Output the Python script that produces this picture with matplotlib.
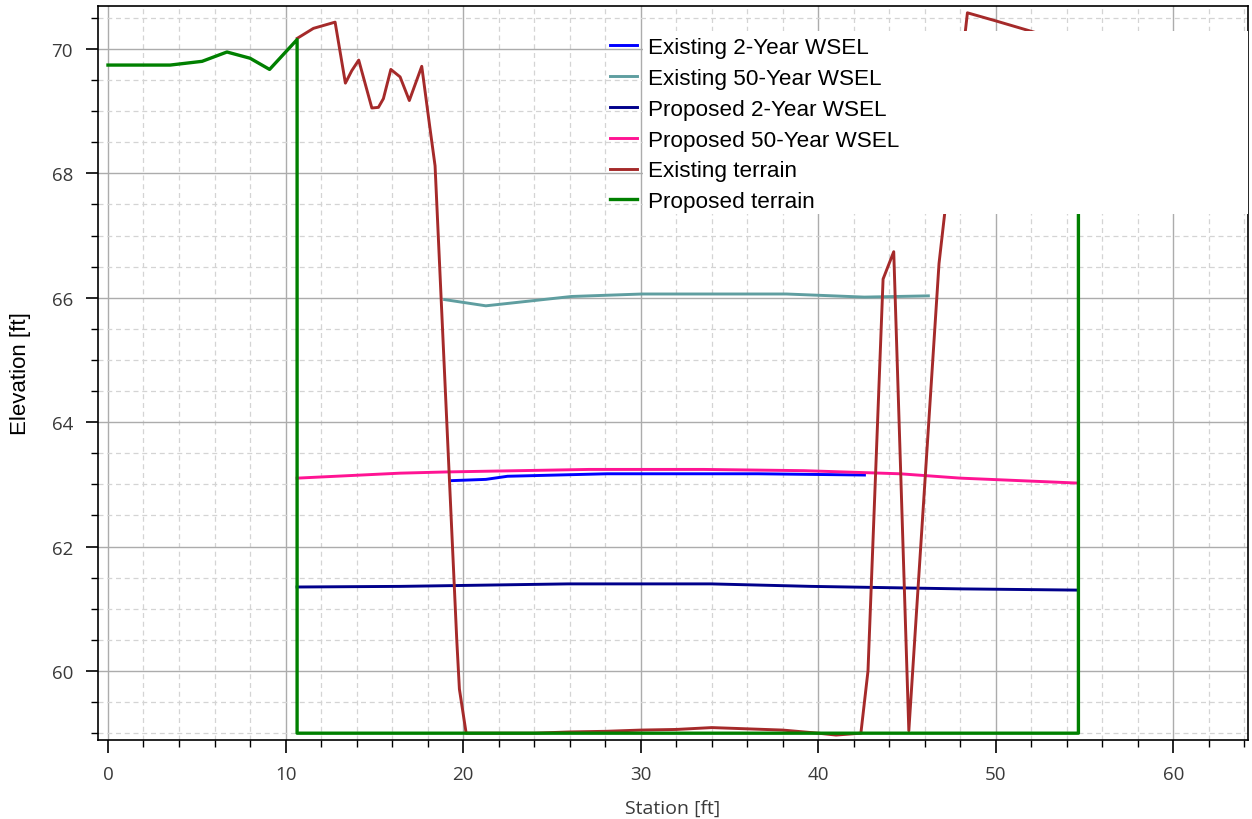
import matplotlib
matplotlib.use("Agg")
import matplotlib.pyplot as plt
from matplotlib.patches import Rectangle
from matplotlib.ticker import MultipleLocator

plt.rcParams["font.family"] = ["Open Sans", "DejaVu Sans"]

# proposed terrain (green)
prop_terrain_x = [0, 3.5, 5.3, 6.7, 8.0, 9.1, 10.65, 10.65, 54.65, 54.65]
prop_terrain_y = [69.74, 69.74, 69.8, 69.95, 69.85, 69.67, 70.15, 59.0, 59.0, 70.2]

# existing terrain (brown)
ex_terrain_x = [10.66, 11.57, 12.79, 13.37, 13.73, 14.12, 14.86, 15.23, 15.51, 15.93,
                16.45, 16.97, 17.67, 18.14, 18.42, 19.64, 19.79, 20.17, 24.0, 26.0,
                28.0, 30.0, 32.0, 34.0, 36.0, 38.0, 40.0, 41.0, 42.4, 42.8,
                43.65, 44.25, 45.1, 46.8, 48.4, 50.0, 52.5, 55.0]
ex_terrain_y = [70.17, 70.33, 70.43, 69.45, 69.65, 69.82, 69.05, 69.06, 69.2, 69.67,
                69.55, 69.17, 69.72, 68.71, 68.12, 60.51, 59.71, 59.0, 59.0, 59.02,
                59.03, 59.05, 59.06, 59.09, 59.07, 59.05, 59.0, 58.97, 59.0, 60.0,
                66.3, 66.74, 59.04, 66.55, 70.58, 70.45, 70.24, 70.1]

# existing 2-year WSEL
ex2_x = [19.37, 21.28, 22.5, 28.1, 36.6, 42.6]
ex2_y = [63.06, 63.08, 63.13, 63.17, 63.17, 63.15]

# existing 50-year WSEL
ex50_x = [18.96, 21.28, 26.1, 30.1, 38.2, 42.6, 46.2]
ex50_y = [65.97, 65.87, 66.02, 66.06, 66.06, 66.01, 66.03]

# proposed 2-year WSEL
pr2_x = [10.65, 16.45, 25.9, 33.95, 39.6, 48.0, 54.65]
pr2_y = [61.35, 61.36, 61.4, 61.4, 61.36, 61.32, 61.3]

# proposed 50-year WSEL
pr50_x = [10.65, 16.45, 19.15, 27.1, 33.55, 39.2, 44.6, 48.0, 54.65]
pr50_y = [63.1, 63.18, 63.2, 63.24, 63.24, 63.22, 63.17, 63.1, 63.02]

fig = plt.figure(figsize=(12.52, 8.20), dpi=100)
ax = fig.add_axes([0.0783, 0.0963, 0.9185, 0.8952])

lw = 2.1
ax.plot(ex2_x, ex2_y, color="#0000ff", lw=lw, label="Existing 2-Year WSEL")
ax.plot(ex50_x, ex50_y, color="#5f9ea0", lw=lw, label="Existing 50-Year WSEL")
ax.plot(pr2_x, pr2_y, color="#00008b", lw=lw, label="Proposed 2-Year WSEL")
ax.plot(pr50_x, pr50_y, color="#ff1493", lw=lw, label="Proposed 50-Year WSEL")
ax.plot(ex_terrain_x, ex_terrain_y, color="#a52a2a", lw=lw, label="Existing terrain")
ax.plot(prop_terrain_x, prop_terrain_y, color="#008000", lw=lw + 0.3, label="Proposed terrain")

ax.set_xlim(-0.56, 64.2)
ax.set_ylim(58.89, 70.69)
ax.xaxis.set_major_locator(MultipleLocator(10))
ax.xaxis.set_minor_locator(MultipleLocator(2))
ax.yaxis.set_major_locator(MultipleLocator(2))
ax.yaxis.set_minor_locator(MultipleLocator(0.5))

ax.grid(which="major", color="#acacac", lw=1.0, ls="-")
ax.grid(which="minor", color="#d4d4d4", lw=0.9, ls=(0, (4, 3)))
ax.set_axisbelow(True)

ax.tick_params(which="major", length=9, width=1.2, colors="black", labelcolor="#3a3a3a",
               labelsize=13.5, pad=9)
ax.tick_params(which="minor", length=5, width=1.0, colors="black")
for s in ax.spines.values():
    s.set_linewidth(1.2)

ax.set_xlabel("Station [ft]", fontsize=14, color="#3a3a3a", labelpad=11)
ax.set_ylabel("Elevation [ft]", fontsize=16, family="Liberation Sans", color="black",
              labelpad=15)

# white legend background
ax.add_patch(Rectangle((0.474, 0.7166), 0.526, 0.2494, transform=ax.transAxes,
                       facecolor="white", edgecolor="none", zorder=4))
leg = ax.legend(loc="upper left", bbox_to_anchor=(0.445, 0.958), frameon=False,
                prop={"family": "Liberation Sans", "size": 16.2},
                handlelength=1.2, handletextpad=0.48, labelspacing=0.44,
                borderaxespad=0, borderpad=0)
leg.set_zorder(5)

fig.savefig("out.png", dpi=100)
